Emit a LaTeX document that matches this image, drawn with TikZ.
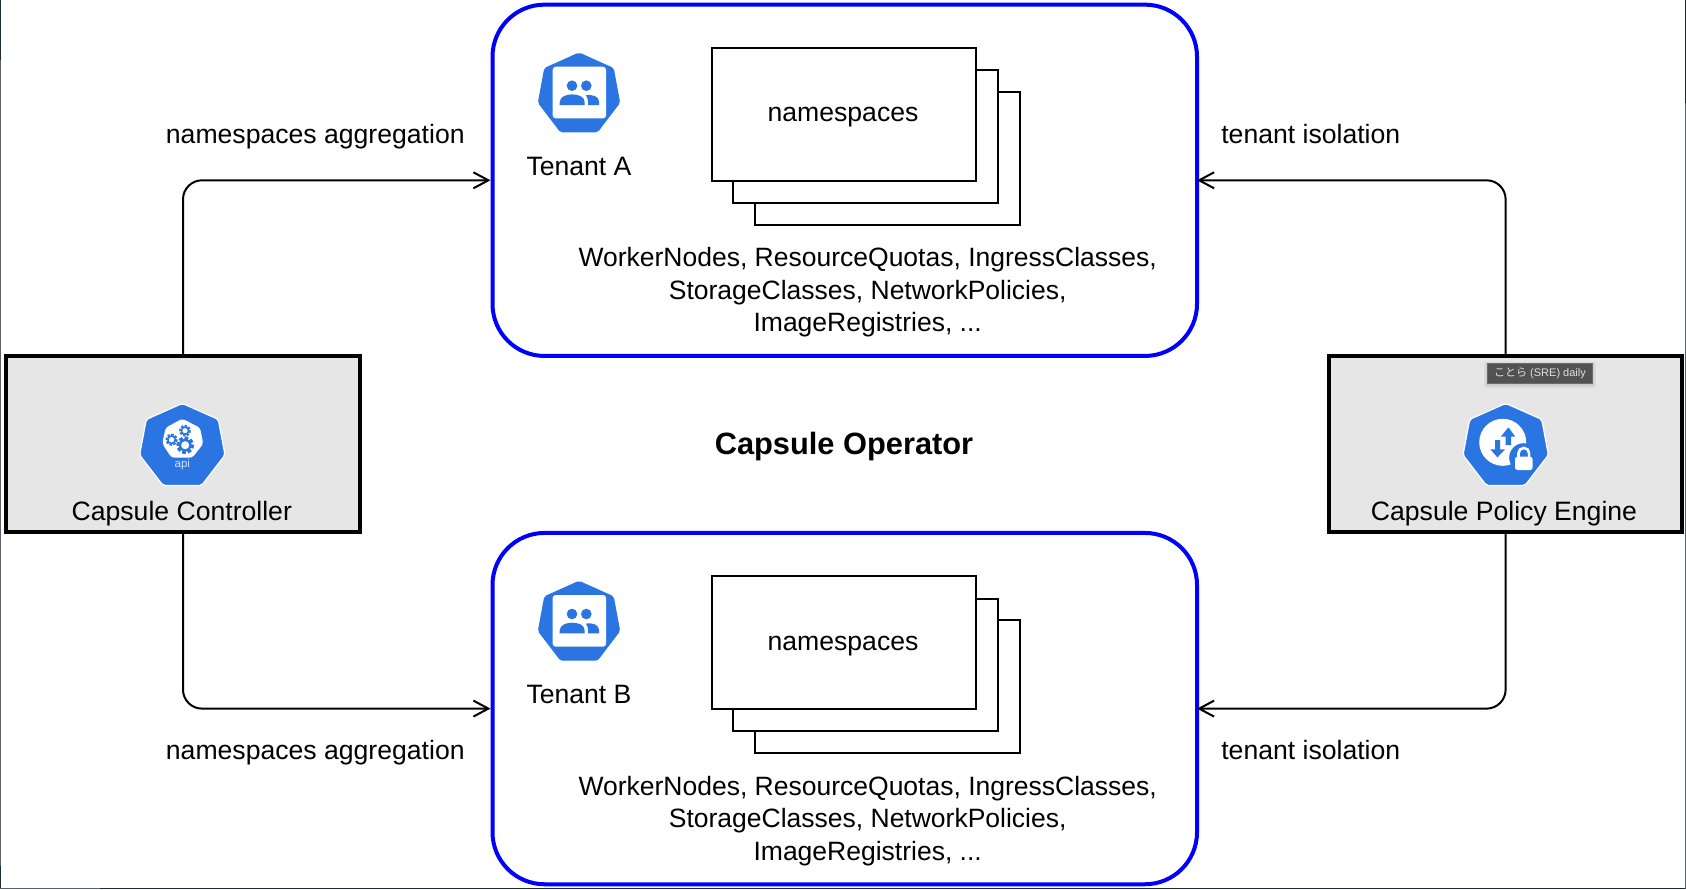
\documentclass[tikz,border=0pt]{standalone}
\usepackage{fontspec}
\setmainfont{Liberation Sans}
\newfontfamily\cjkjp{Noto Sans CJK JP}
\usetikzlibrary{arrows.meta}
\definecolor{k8sblue}{HTML}{2A75E2}
\definecolor{boxgrey}{HTML}{E6E6E6}
\definecolor{navyedge}{HTML}{1C2B3C}
\definecolor{greyedge}{HTML}{5A6272}
\tikzset{
  x=1pt,y=-1pt,
  tenantbox/.style={draw=blue,line width=4pt,rounded corners=52pt,minimum width=704.5pt,minimum height=351.3pt,inner sep=0pt,outer sep=0pt},
  compbox/.style={draw=black,fill=boxgrey,line width=4pt,minimum width=353.5pt,minimum height=176pt,inner sep=0pt,outer sep=0pt},
  nsbox/.style={draw=black,fill=white,line width=2pt,minimum width=264.7pt,minimum height=132.6pt,inner sep=0pt,outer sep=0pt},
  label/.style={font=\fontsize{26.6}{26.6}\selectfont,anchor=base,inner sep=0pt,outer sep=0pt},
  listtext/.style={font=\fontsize{26.5}{32.5}\selectfont,align=center,inner sep=0pt,outer sep=0pt},
  conn/.style={draw=black,line width=2pt,rounded corners=19pt,-{Straight Barb[length=15pt,width=16pt,line width=2pt]}},
}
\newcommand{\heptapath}{(0,-41.3) -- (36,-25.3) -- (42.7,10.3) -- (19.3,40.7) -- (-19.3,40.7) -- (-42.7,10.3) -- (-36,-25.3) -- cycle}
\newcommand{\gearshape}[3]{%
  \foreach \a in {0,45,...,315}{\draw[k8sblue,line width=#3*.5pt] (#1,#2) ++(\a+10:#3*.7) -- ++(\a+10:#3*.45);}
  \draw[k8sblue,fill=white,line width=#3*.28pt] (#1,#2) circle[radius=#3*.7];
}
\newcommand{\tenantgroup}[3]{%
  \begin{scope}[yshift=#1]
    \node[nsbox] (#2c) at (887.6,158.3) {};
    \node[nsbox] (#2b) at (865.8,136.5) {};
    \node[nsbox] (#2a) at (844,114.3) {};
    \node[label] (#2t) at (843,121.7) {namespaces};
    \begin{scope}[shift={(579,92.7)},xscale=.965,yscale=.975]
      \fill[k8sblue,rounded corners=2pt] \heptapath;
    \end{scope}
    \begin{scope}[shift={(579,92.7)}]
      \fill[white,rounded corners=3pt] (-26.3,-26) rectangle (27,25.7);
      \fill[k8sblue] (-7,-7) circle[radius=5.3] (7.3,-7) circle[radius=5.3];
      \fill[k8sblue] (-19.3,12.3) -- (-19.3,9.5) .. controls (-19.3,3.5) and (-12,1.7) .. (-6.8,1.7) .. controls (-1.5,1.7) and (5.7,3.5) .. (5.7,9.5) -- (5.7,12.3) -- cycle;
      \fill[k8sblue] (9,12.3) -- (9,8.5) .. controls (9,6) and (8,3.8) .. (6.7,2.6) .. controls (14,1.5) and (20,3.8) .. (20,9) -- (20,12.3) -- cycle;
    \end{scope}
    \node[label] (#2n) at (579,175) {#3};
    \node[listtext] (#2l) at (867.7,292.5) {WorkerNodes, ResourceQuotas, IngressClasses,\\StorageClasses, NetworkPolicies,\\ImageRegistries, ...};
  \end{scope}%
}
\begin{document}
\begin{tikzpicture}
\useasboundingbox (0,0) rectangle (1686,889);
\fill[white] (0,0) rectangle (1686,889);
% window edges
\fill[navyedge] (0,0) rectangle (1.2,60);
\fill[greyedge] (0,60) rectangle (1.2,866);
\fill[navyedge] (0,866) rectangle (1.2,889);
\fill[navyedge] (100,887.6) rectangle (1686,889);
\fill[greyedge] (0,887.6) rectangle (100,889);
\fill[navyedge] (1685,0) rectangle (1686,103);
\fill[greyedge] (1685,103) rectangle (1686,889);

\node[tenantbox] (ta) at (844.75,180.3) {};
\node[tenantbox] (tb) at (844.75,708.6) {};
\node[compbox] (cc) at (183,444) {};
\node[compbox] (pe) at (1505.6,444) {};

\draw[conn,shorten >=2pt] (cc.north) |- (ta.west);
\draw[conn,shorten >=2pt] (cc.south) |- (tb.west);
\draw[conn] (pe.north) |- (ta.east);
\draw[conn] (pe.south) |- (tb.east);

\tenantgroup{0pt}{a}{Tenant A}
\tenantgroup{-528.3pt}{b}{Tenant B}

\node[label] (la1) at (315.3,143.5) {namespaces aggregation};
\node[label] (la2) at (315.3,759.5) {namespaces aggregation};
\node[label] (li1) at (1310.8,143.5) {tenant isolation};
\node[label] (li2) at (1310.8,759.5) {tenant isolation};
\node[label,font=\fontsize{30.8}{30.8}\selectfont\bfseries] (op) at (844,454) {Capsule Operator};

% controller icon
\begin{scope}[shift={(182.3,444.7)}]
  \fill[k8sblue,draw=white,line width=1.2pt,rounded corners=2pt] \heptapath;
  \fill[white,rounded corners=3pt] (0,-26) -- (17.7,-17) -- (21,-1) -- (10,13) -- (-10.7,13) -- (-20,-1) -- (-16.7,-17) -- cycle;
  \gearshape{-10.7}{-5}{5.2}
  \gearshape{2.7}{-14}{5}
  \gearshape{2.9}{0.5}{7.6}
  \node[inner sep=0pt,text=white!80!k8sblue,font=\fontsize{11.5}{11.5}\selectfont] (apit) at (0,20.3) {api};
\end{scope}
\node[label] (cct) at (181.8,520) {Capsule Controller};

% policy icon
\begin{scope}[shift={(1505.7,444.7)}]
  \fill[k8sblue,draw=white,line width=1.2pt,rounded corners=2pt] \heptapath;
  \fill[white] (-3,-2.4) circle[radius=23.5];
  \fill[k8sblue] (2.7,-17.3) -- (9.6,-8) -- (5.3,-8) -- (5.3,0.3) -- (0,0.3) -- (0,-8) -- (-5,-8) -- cycle;
  \fill[k8sblue] (-8.3,12.7) -- (-15.3,4.7) -- (-10.7,4.7) -- (-10.7,-4.7) -- (-5.7,-4.7) -- (-5.7,4.7) -- (-0.7,4.7) -- cycle;
  \fill[k8sblue] (18,13) circle[radius=14.5];
  \fill[white,rounded corners=2.5pt] (9.3,12) rectangle (26.9,25.3);
  \draw[white,line width=2.6pt] (12.8,13) -- (12.8,8.5) arc[start angle=180,end angle=360,radius=5.3] -- (23.4,13);
\end{scope}
\node[label] (pet) at (1504,520) {Capsule Policy Engine};

% tooltip
\fill[black,opacity=.05] (1484.3,362.3) rectangle (1595.7,388);
\fill[black,opacity=.06] (1486,363.3) rectangle (1594,385.5);
\node[fill=black!68,draw=black!58,line width=.6pt,minimum width=105.4pt,minimum height=20pt,inner sep=0pt,text=white!88!black,font=\fontsize{11}{11}\selectfont] (tip) at (1540,373.3) {{\cjkjp ことら} (SRE) daily};
\end{tikzpicture}
\end{document}
